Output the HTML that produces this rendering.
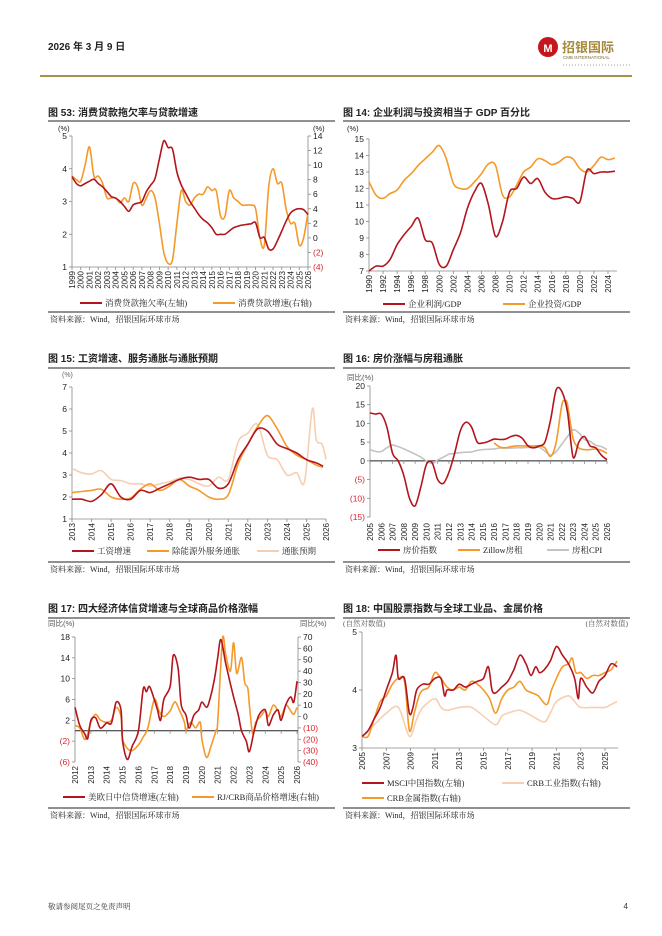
<!DOCTYPE html>
<html><head><meta charset="utf-8">
<style>
body{margin:0;background:#fff;}
svg{display:block;}
.t{font-family:"Liberation Sans","Noto Sans CJK SC",sans-serif;}
.s{font-family:"Liberation Serif","Noto Serif CJK SC",serif;}
</style></head>
<body>
<svg id="pg" width="662" height="936" viewBox="0 0 662 936" xmlns="http://www.w3.org/2000/svg">
<g>
<text class="t" x="48" y="50" font-size="10" font-weight="bold" fill="#222">2026 年 3 月 9 日</text>
<circle cx="548" cy="47" r="10" fill="#c4161c"/>
<text class="t" x="548" y="52" font-size="11" font-weight="bold" fill="#fff" text-anchor="middle">M</text>
<text class="t" x="562" y="52" font-size="13" font-weight="bold" fill="#a6893a">招银国际</text>
<text class="t" x="563" y="59" font-size="4.5" fill="#7a6a3a">CMB INTERNATIONAL</text>
<line x1="563" y1="65" x2="632" y2="65" stroke="#bbb" stroke-width="1.5" stroke-dasharray="1 2"/>
<rect x="40" y="75" width="592" height="2" fill="#a69348"/>
</g>
<g id="charts"></g>
<text class="s" x="48" y="909" font-size="7.5" fill="#333">敬请参阅尾页之免责声明</text>
<text class="t" x="628" y="909" font-size="8" fill="#333" text-anchor="end">4</text>
</svg>
<script>
// ---------- Chart 53 ----------
const c53_red = [3.76,3.55,3.48,3.55,3.62,3.68,3.55,3.45,3.3,3.15,3.1,3.0,2.85,2.7,2.9,2.95,3.0,3.3,3.5,3.7,4.3,4.85,4.65,4.6,3.9,3.5,3.25,3.0,2.8,2.6,2.45,2.35,2.2,2.0,2.0,2.0,2.1,2.2,2.25,2.28,2.3,2.32,2.35,1.9,1.9,1.55,1.55,1.8,2.1,2.4,2.65,2.75,2.78,2.75,2.6];
const c53_orange = [8.5,8,7.8,10,12.5,8.5,8.5,7.5,5.5,5.5,5.5,4.8,5.5,5,7.5,7,4.5,5.5,6.5,5.5,2,-2,-3.5,-3,2,6.5,5,4.5,5.5,6,6,7,6.5,6.5,3,3,6.5,5.5,5,4.5,4.5,4.5,4,0,-1,7,9.5,7.5,7.5,4,2,2,-1,0,3.5];
const c53_leftTicks = [1,2,3,4,5];
const c53_rightTicks = [-4,-2,0,2,4,6,8,10,12,14];
const c53_years = [1999,2000,2001,2002,2003,2004,2005,2006,2007,2008,2009,2010,2011,2012,2013,2014,2015,2016,2017,2018,2019,2020,2021,2022,2023,2024,2025,2026];
// ---------- Chart 14 ----------
const c14_profit = [7.0,7.3,7.3,7.7,8.6,9.2,9.7,10.2,8.9,8.7,7.4,7.3,8.3,9.3,10.8,11.8,12.3,11.0,9.1,10.0,11.8,12.0,12.7,12.3,12.6,11.8,11.4,11.4,11.5,11.4,11.2,13.1,12.9,13.0,13.0,13.05];
const c14_invest = [12.4,11.6,11.4,11.7,11.9,12.5,12.9,13.4,13.8,14.2,14.6,13.8,12.3,12.0,12.0,12.4,12.9,13.5,13.4,11.6,11.5,12.2,13.0,13.3,13.8,13.7,13.45,13.6,13.9,13.8,13.2,13.0,13.4,13.9,13.75,13.85];
const c14_ticks = [7,8,9,10,11,12,13,14,15];
const c14_years = [1990,1992,1994,1996,1998,2000,2002,2004,2006,2008,2010,2012,2014,2016,2018,2020,2022,2024];
// ---------- Chart 15 ----------
const c15_wage_x = [2013,2013.5,2014,2014.5,2015,2015.5,2016,2016.5,2017,2017.5,2018,2018.5,2019,2019.5,2020,2020.5,2021,2021.5,2022,2022.5,2023,2023.5,2024,2024.5,2025,2025.5,2025.85];
const c15_wage = [1.9,1.9,1.8,2.1,2.6,2.0,1.9,2.3,2.2,2.4,2.6,2.8,2.9,2.8,2.8,2.4,2.6,3.7,4.4,5.1,5.0,4.4,4.2,4.0,3.7,3.55,3.4];
const c15_serv = [2.2,2.25,2.3,2.35,2.0,1.9,1.95,2.35,2.6,2.3,2.5,2.8,2.5,2.3,2.0,1.9,2.1,3.5,4.4,5.2,5.7,5.1,4.3,3.9,3.7,3.45,3.35];
const c15_exp_x = [2013,2013.5,2014,2014.5,2015,2015.5,2016,2016.5,2017,2017.5,2018,2018.5,2019,2019.5,2020,2020.5,2021,2021.5,2022,2022.5,2023,2023.5,2024,2024.5,2024.9,2025.3,2025.5,2025.8,2026];
const c15_exp = [3.3,3.1,3.05,3.2,2.8,2.75,2.6,2.6,2.5,2.6,2.7,2.85,2.8,2.6,2.5,2.9,2.8,4.5,4.9,5.3,3.9,3.7,3.0,3.1,2.7,6.0,4.6,4.4,3.7];
const c15_ticks = [1,2,3,4,5,6,7];
const c15_years = [2013,2014,2015,2016,2017,2018,2019,2020,2021,2022,2023,2024,2025,2026];
// ---------- Chart 16 ----------
const c16_price = [12.8,12.5,12.5,9,2,0,-4,-10,-12,-7,-1,-0.5,-5,-6,-3,2,8,10.3,9,5,4.8,5.2,5.8,5.7,5.8,6.5,6.8,6,4,3.5,4,5,11,19,18.5,13,1,5,6.5,4,3.5,1.5,0.3];
const c16_zillow_x = [2016,2016.5,2017,2017.5,2018,2018.5,2019,2019.5,2020,2020.5,2021,2021.5,2022,2022.3,2022.5,2023,2023.5,2024,2024.5,2025,2025.5,2026];
const c16_zillow = [4.8,3.7,3.5,3.8,4.0,4.0,4.0,4.0,4.0,3.5,1.2,5,15,16,15,6,3.5,3,3,3.2,2.8,2.0];
const c16_cpi = [3,2.5,2.5,3.5,4.2,3.8,3.2,2.5,1.8,1.0,0,-0.7,0.2,1,1.8,2,2.2,2.3,2.4,2.8,3,3.1,3.2,3.4,3.4,3.4,3.5,3.5,3.6,3.6,3.6,2.6,1.5,2.5,4.5,6.5,8.3,7.5,5.7,5.2,4.2,3.8,3.0];
const c16_ticks = [-15,-10,-5,0,5,10,15,20];
const c16_years = [2005,2006,2007,2008,2009,2010,2011,2012,2013,2014,2015,2016,2017,2018,2019,2020,2021,2022,2023,2024,2025,2026];
// ---------- Chart 17 ----------
const c17_red_x = [2012,2012.3,2012.6,2012.8,2013,2013.3,2013.6,2014,2014.3,2014.6,2014.9,2015,2015.3,2015.6,2016,2016.3,2016.5,2016.7,2017,2017.2,2017.4,2017.6,2018,2018.2,2018.5,2018.7,2019,2019.2,2019.5,2019.8,2020,2020.3,2020.5,2020.8,2021,2021.2,2021.5,2021.8,2022,2022.3,2022.5,2022.8,2023,2023.3,2023.6,2024,2024.2,2024.5,2024.8,2025,2025.3,2025.6,2025.8,2026];
const c17_red = [4.5,1,-0.5,-1.5,2,2.5,0.5,1.5,1.5,5.5,4,-2,-5.5,-3,0,8,7.5,8.5,6,4,2,6,8.5,14.5,12,5,3,0.5,3,4,5.5,4.5,6,10,14,17.5,13,9,6.5,3,0,-2,-4,0,3,4,1,3,4,2,5,6.5,5.5,9.5];
const c17_or_x = [2012,2012.3,2012.6,2012.8,2013,2013.3,2013.6,2014,2014.3,2014.6,2014.9,2015,2015.3,2015.6,2016,2016.3,2016.6,2017,2017.3,2017.6,2018,2018.3,2018.6,2018.9,2019,2019.3,2019.6,2019.9,2020,2020.3,2020.6,2020.9,2021,2021.3,2021.5,2021.8,2022,2022.2,2022.5,2022.7,2022.9,2023,2023.2,2023.4,2023.7,2024,2024.2,2024.5,2024.8,2025,2025.3,2025.6,2025.8,2026];
const c17_or = [-8,-10,-20,-15,-5,2,-3,-5,-3,8,0,-20,-28,-30,-25,-18,-10,15,5,0,5,13,5,-5,-12,-5,-10,-5,-20,-36,-25,-12,-5,68,55,40,65,38,52,30,25,10,-15,-5,0,5,0,10,5,0,10,5,2,8];
const c17_leftTicks = [-6,-2,2,6,10,14,18];
const c17_rightTicks = [-40,-30,-20,-10,0,10,20,30,40,50,60,70];
const c17_years = [2012,2013,2014,2015,2016,2017,2018,2019,2020,2021,2022,2023,2024,2025,2026];
// ---------- Chart 18 ----------
const c18_msci_x = [2005,2005.5,2006,2006.5,2007,2007.5,2007.8,2008,2008.5,2008.9,2009.2,2009.5,2010,2010.5,2011,2011.5,2011.8,2012,2012.5,2013,2013.5,2014,2014.5,2015,2015.4,2015.7,2016,2016.5,2017,2017.5,2018,2018.5,2018.9,2019.3,2019.6,2020,2020.5,2021,2021.5,2022,2022.5,2022.8,2023,2023.5,2024,2024.5,2025,2025.5,2026];
const c18_msci = [3.2,3.3,3.5,3.7,4.0,4.3,4.6,4.2,4.2,3.6,3.7,4.0,4.1,4.1,4.2,4.2,3.9,4.0,4.0,4.1,4.05,4.1,4.15,4.2,4.4,4.0,3.95,4.05,4.15,4.35,4.6,4.45,4.25,4.4,4.3,4.35,4.5,4.75,4.6,4.45,4.2,3.85,4.2,4.05,3.95,4.15,4.25,4.45,4.4];
const c18_metal_x = [2005,2005.5,2006,2006.5,2007,2007.5,2008,2008.5,2008.9,2009.3,2009.7,2010,2010.5,2011,2011.5,2012,2012.5,2013,2013.5,2014,2014.5,2015,2015.5,2016,2016.5,2017,2017.5,2018,2018.5,2019,2019.5,2020.2,2020.6,2021,2021.5,2022,2022.3,2022.6,2023,2023.5,2024,2024.5,2025,2025.5,2026];
const c18_metal = [3.2,3.2,3.5,3.8,3.9,4.1,4.2,4.15,3.3,3.6,3.9,4.0,4.05,4.3,4.2,4.05,4.0,4.05,4.0,4.15,4.1,4.0,3.85,3.6,3.85,4.0,4.05,4.15,4.0,3.95,3.9,3.75,4.0,4.2,4.4,4.45,4.55,4.3,4.3,4.2,4.25,4.25,4.3,4.35,4.5];
const c18_ind_x = [2005,2006,2007,2008,2008.9,2009.5,2010,2011,2011.5,2012,2013,2014,2015,2016,2016.5,2017,2018,2019,2020,2020.5,2021,2022,2022.5,2023,2024,2025,2025.5,2026];
const c18_ind = [3.2,3.4,3.6,3.7,3.2,3.5,3.7,3.85,3.7,3.65,3.7,3.7,3.55,3.4,3.55,3.6,3.65,3.55,3.45,3.6,3.8,3.9,3.8,3.7,3.7,3.7,3.75,3.8];
const c18_ticks = [3,4,5];
const c18_years = [2005,2007,2009,2011,2013,2015,2017,2019,2021,2023,2025];

const RED='#b3151d', ORANGE='#f4992a', PEACH='#f6cfb2', GRAY='#c3c3c3', NEG='#d9262c';
const NS='http://www.w3.org/2000/svg';
const root=document.getElementById('charts');
function mk(tag,attrs,parent){const e=document.createElementNS(NS,tag);for(const k in attrs)e.setAttribute(k,attrs[k]);(parent||root).appendChild(e);return e;}
function txt(parent,x,y,s,opt){const e=mk('text',Object.assign({x:x,y:y,'font-size':8.5,fill:'#222'},opt||{}),parent);e.textContent=s;return e;}
function lin(a,b,c,d){return v=>c+(v-a)*(d-c)/(b-a);}
function seq(a,step,n){const r=[];for(let i=0;i<n;i++)r.push(a+i*step);return r;}
function pathD(xs,ys,sx,sy){
  const p=xs.map((x,i)=>[sx(x),sy(ys[i])]);
  let d='M'+p[0][0].toFixed(1)+','+p[0][1].toFixed(1);
  for(let i=0;i<p.length-1;i++){
    const p0=p[i-1]||p[i],p1=p[i],p2=p[i+1],p3=p[i+2]||p2,t=0.16;
    d+=' C'+(p1[0]+(p2[0]-p0[0])*t).toFixed(1)+','+(p1[1]+(p2[1]-p0[1])*t).toFixed(1)+' '+(p2[0]-(p3[0]-p1[0])*t).toFixed(1)+','+(p2[1]-(p3[1]-p1[1])*t).toFixed(1)+' '+p2[0].toFixed(1)+','+p2[1].toFixed(1);
  }
  return d;
}
function fmt(v){return v<0?'('+Math.abs(v)+')':String(v);}
function panel(g,x0,x1,title,titleY,lineY,bottomY){
  txt(g,x0,titleY,title,{'font-size':10,'font-weight':'bold',class:'t'});
  mk('line',{x1:x0,x2:x1,y1:lineY,y2:lineY,stroke:'#222','stroke-width':1},g);
  mk('line',{x1:x0,x2:x1,y1:bottomY,y2:bottomY,stroke:'#222','stroke-width':1},g);
  const s=txt(g,x0+2,bottomY+10,'资料来源：Wind，招银国际环球市场',{'font-size':8,class:'s'});
  
  
}
function yAxis(g,x,ticks,sy,side,neg){
  mk('line',{x1:x,x2:x,y1:sy(ticks[ticks.length-1]),y2:sy(ticks[0]),stroke:'#888','stroke-width':0.8},g);
  ticks.forEach(v=>{
    const y=sy(v);
    mk('line',{x1:side==='l'?x-3:x,x2:side==='l'?x:x+3,y1:y,y2:y,stroke:'#888','stroke-width':0.8},g);
    const t=txt(g,side==='l'?x-5:x+5,y+3,fmt(v),{'text-anchor':side==='l'?'end':'start',class:'t',fill:(neg&&v<0)?NEG:'#222'});
    
    
  });
}
function xAxis(g,y,x0,x1,years,sx,lineY){
  mk('line',{x1:x0,x2:x1,y1:lineY,y2:lineY,stroke:lineY===y?'#888':'#222','stroke-width':lineY===y?0.8:1},g);
  years.forEach(v=>{
    const x=sx(v);
    mk('line',{x1:x,x2:x,y1:lineY,y2:lineY+3,stroke:'#888','stroke-width':0.8},g);
    const t=txt(g,0,0,String(v),{'text-anchor':'end',class:'t','font-size':8,transform:'translate('+(x+3)+','+(y+4)+') rotate(-90)'});
    
    
  });
}
function series(g,xs,ys,sx,sy,color,name,w){
  const p=mk('path',{d:pathD(xs,ys,sx,sy),fill:'none',stroke:color,'stroke-width':w||1.6,'stroke-linejoin':'round'},g);
  
  
}
function legend(g,x,y,color,label){
  mk('line',{x1:x,x2:x+22,y1:y,y2:y,stroke:color,'stroke-width':2},g);
  const t=txt(g,x+25,y+3,label,{'font-size':8.5,class:'s'});
  
  
}
function group(name){const g=mk('g',{});return g;}

// Chart 53
(function(){
  const g=group('chart-53-consumer-loans');
  panel(g,48,335,'图 53: 消费贷款拖欠率与贷款增速',116,121,312);
  const sx=lin(1999,2026,72,308), syl=lin(1,5,267,136), syr=lin(-4,14,267,136);
  yAxis(g,72,c53_leftTicks,syl,'l',false);
  yAxis(g,308,c53_rightTicks,syr,'r',true);
  txt(g,58,131,'(%)',{class:'t','font-size':7.5});
  txt(g,313,131,'(%)',{class:'t','font-size':7.5});
  xAxis(g,267,72,308,c53_years,sx,267);
  series(g,seq(1999,0.5,c53_orange.length),c53_orange,sx,syr,ORANGE,'loan-growth-line');
  series(g,seq(1999,0.5,c53_red.length),c53_red,sx,syl,RED,'delinquency-rate-line');
  legend(g,80,303,RED,'消费贷款拖欠率(左轴)');
  legend(g,213,303,ORANGE,'消费贷款增速(右轴)');
})();
// Chart 14
(function(){
  const g=group('chart-14-profit-investment');
  panel(g,343,630,'图 14: 企业利润与投资相当于 GDP 百分比',116,121,312);
  const sx=lin(1990,2024,369,608), sy=lin(7,15,271,139);
  yAxis(g,369,c14_ticks,sy,'l',false);
  txt(g,347,131,'(%)',{class:'t','font-size':7.5});
  xAxis(g,271,369,617,c14_years,sx,271);
  series(g,seq(1990,1,c14_invest.length),c14_invest,sx,sy,ORANGE,'investment-gdp-line');
  series(g,seq(1990,1,c14_profit.length),c14_profit,sx,sy,RED,'profit-gdp-line');
  legend(g,383,304,RED,'企业利润/GDP');
  legend(g,503,304,ORANGE,'企业投资/GDP');
})();
// Chart 15
(function(){
  const g=group('chart-15-wages-inflation');
  panel(g,48,335,'图 15: 工资增速、服务通胀与通胀预期',362,368,562);
  const sx=lin(2013,2026,72,326), sy=lin(1,7,519,387);
  yAxis(g,72,c15_ticks,sy,'l',false);
  txt(g,62,377,'(%)',{class:'t','font-size':7,fill:'#666'});
  xAxis(g,519,72,326,c15_years,sx,519);
  series(g,c15_exp_x,c15_exp,sx,sy,PEACH,'inflation-expectation-line');
  series(g,c15_wage_x,c15_serv,sx,sy,ORANGE,'core-services-inflation-line');
  series(g,c15_wage_x,c15_wage,sx,sy,RED,'wage-growth-line');
  legend(g,72,551,RED,'工资增速');
  legend(g,147,551,ORANGE,'除能源外服务通胀');
  legend(g,257,551,PEACH,'通胀预期');
})();
// Chart 16
(function(){
  const g=group('chart-16-house-prices-rent');
  panel(g,343,630,'图 16: 房价涨幅与房租通胀',362,368,562);
  const sx=lin(2005,2026,370,607), sy=lin(-15,20,517,386);
  yAxis(g,370,c16_ticks,sy,'l',true);
  txt(g,347,380,'同比(%)',{class:'t','font-size':7.5,fill:'#555'});
  xAxis(g,519,370,607,c16_years,sx,sy(0));
  series(g,seq(2005,0.5,c16_cpi.length),c16_cpi,sx,sy,GRAY,'rent-cpi-line');
  series(g,c16_zillow_x,c16_zillow,sx,sy,ORANGE,'zillow-rent-line');
  series(g,seq(2005,0.5,c16_price.length),c16_price,sx,sy,RED,'house-price-line');
  legend(g,378,550,RED,'房价指数');
  legend(g,458,550,ORANGE,'Zillow房租');
  legend(g,547,550,GRAY,'房租CPI');
})();
// Chart 17
(function(){
  const g=group('chart-17-credit-commodities');
  panel(g,48,335,'图 17: 四大经济体信贷增速与全球商品价格涨幅',612,618,808);
  const sx=lin(2012,2026,75,297), syl=lin(-6,18,762,637), syr=lin(-40,70,762,637);
  yAxis(g,75,c17_leftTicks,syl,'l',true);
  yAxis(g,298,c17_rightTicks,syr,'r',true);
  txt(g,48,626,'同比(%)',{class:'t','font-size':7.5,fill:'#555'});
  txt(g,300,626,'同比(%)',{class:'t','font-size':7.5,fill:'#555'});
  xAxis(g,762,75,298,c17_years,sx,syl(0));
  series(g,c17_or_x,c17_or,sx,syr,ORANGE,'commodity-price-growth-line');
  series(g,c17_red_x,c17_red,sx,syl,RED,'credit-growth-line');
  legend(g,63,797,RED,'美欧日中信贷增速(左轴)');
  legend(g,192,797,ORANGE,'RJ/CRB商品价格增速(右轴)');
})();
// Chart 18
(function(){
  const g=group('chart-18-equities-metals');
  panel(g,343,630,'图 18: 中国股票指数与全球工业品、金属价格',612,618,808);
  const sx=lin(2005,2025,362,605), sy=lin(3,5,748,632);
  yAxis(g,362,c18_ticks,sy,'l',false);
  txt(g,343,626,'(自然对数值)',{class:'s','font-size':7.5,fill:'#555'});
  txt(g,628,626,'(自然对数值)',{class:'s','font-size':7.5,fill:'#555','text-anchor':'end'});
  xAxis(g,748,362,618,c18_years,sx,748);
  series(g,c18_ind_x,c18_ind,sx,sy,PEACH,'crb-industrial-line');
  series(g,c18_metal_x,c18_metal,sx,sy,ORANGE,'crb-metals-line');
  series(g,c18_msci_x,c18_msci,sx,sy,RED,'msci-china-line');
  legend(g,362,783,RED,'MSCI中国指数(左轴)');
  legend(g,502,783,PEACH,'CRB工业指数(右轴)');
  legend(g,362,798,ORANGE,'CRB金属指数(右轴)');
})();
</script>
</body></html>
